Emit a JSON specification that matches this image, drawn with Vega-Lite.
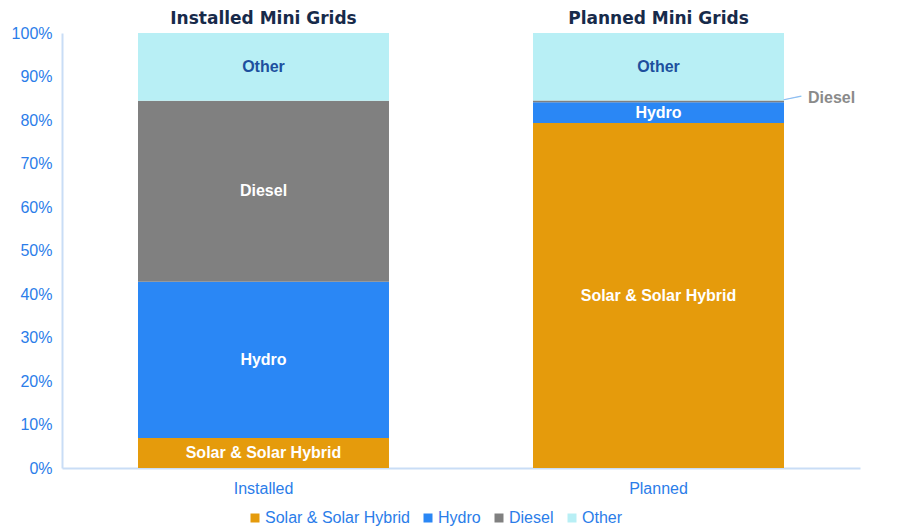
{
  "$schema": "https://vega.github.io/schema/vega-lite/v6.json",
  "autosize": {"type": "none"},
  "width": 798,
  "height": 435,
  "padding": {"left": 62, "top": 33, "right": 59, "bottom": 60},
  "config": {"view": {"stroke": null}, "font": "Liberation Sans"},
  "data": {
    "values": [
      {"cat": "Installed", "type": "Solar & Solar Hybrid", "value": 0.069},
      {"cat": "Installed", "type": "Hydro", "value": 0.359},
      {"cat": "Installed", "type": "Diesel", "value": 0.416},
      {"cat": "Installed", "type": "Other", "value": 0.156},
      {"cat": "Planned", "type": "Solar & Solar Hybrid", "value": 0.793},
      {"cat": "Planned", "type": "Hydro", "value": 0.048},
      {"cat": "Planned", "type": "Diesel", "value": 0.004},
      {"cat": "Planned", "type": "Other", "value": 0.155}
    ]
  },
  "transform": [
    {"calculate": "indexof(['Solar & Solar Hybrid','Hydro','Diesel','Other'], datum.type)", "as": "k"},
    {"stack": "value", "groupby": ["cat"], "sort": [{"field": "k", "order": "ascending"}], "as": ["y0", "y1"]},
    {"calculate": "(datum.y0 + datum.y1) / 2", "as": "ymid"},
    {"calculate": "datum.cat == 'Installed' ? 'Installed Mini Grids' : 'Planned Mini Grids'", "as": "title"}
  ],
  "encoding": {
    "x": {
      "field": "cat",
      "type": "nominal",
      "scale": {"paddingInner": 0.3646, "paddingOuter": 0.1924},
      "axis": {
        "title": null,
        "labelAngle": 0,
        "ticks": false,
        "labelPadding": 12,
        "labelColor": "#2b7de9",
        "labelFontSize": 16,
        "labelFont": "Liberation Sans",
        "domainColor": "#c9ddf6",
        "domainWidth": 2
      }
    }
  },
  "layer": [
    {
      "mark": {"type": "bar"},
      "encoding": {
        "y": {
          "field": "y0",
          "type": "quantitative",
          "scale": {"domain": [0, 1]},
          "axis": {
            "title": null,
            "format": ".0%",
            "values": [0, 0.1, 0.2, 0.3, 0.4, 0.5, 0.6, 0.7, 0.8, 0.9, 1],
            "grid": false,
            "ticks": false,
            "labelPadding": 10,
            "labelColor": "#2b7de9",
            "labelFontSize": 16,
            "labelFont": "Liberation Sans",
            "domainColor": "#c9ddf6",
            "domainWidth": 2
          }
        },
        "y2": {"field": "y1"},
        "color": {
          "field": "type",
          "type": "nominal",
          "scale": {
            "domain": ["Solar & Solar Hybrid", "Hydro", "Diesel", "Other"],
            "range": ["#e59b0c", "#2a87f5", "#808080", "#b8eff5"]
          },
          "legend": {
            "title": null,
            "orient": "none",
            "legendX": 185,
            "legendY": 477,
            "direction": "horizontal",
            "columns": 4,
            "symbolType": "square",
            "symbolSize": 81,
            "symbolStrokeWidth": 0,
            "labelColor": "#2b7de9",
            "labelFontSize": 16,
            "labelFont": "Liberation Sans",
            "labelOffset": 2,
            "columnPadding": 10
          }
        }
      }
    },
    {
      "transform": [{"filter": "!(datum.cat == 'Planned' && datum.type == 'Diesel')"}],
      "mark": {"type": "text", "fontWeight": "bold", "fontSize": 16, "font": "Liberation Sans"},
      "encoding": {
        "y": {"field": "ymid", "type": "quantitative"},
        "text": {"field": "type"},
        "color": {
          "condition": {"test": "datum.type == 'Other'", "value": "#1d4f9e"},
          "value": "#ffffff"
        }
      }
    },
    {
      "transform": [{"filter": "datum.cat == 'Planned' && datum.type == 'Diesel'"}],
      "mark": {"type": "text", "text": "—", "fontSize": 18, "color": "#8ec0f2", "align": "left", "dx": 0, "dy": -2, "angle": -12},
      "encoding": {
        "x": {"field": "cat", "type": "nominal", "bandPosition": 1},
        "y": {"field": "ymid", "type": "quantitative"}
      }
    },
    {
      "transform": [{"filter": "datum.cat == 'Planned' && datum.type == 'Diesel'"}],
      "mark": {"type": "text", "fontWeight": "bold", "fontSize": 16, "font": "Liberation Sans", "color": "#8a8a8a", "align": "left", "dx": 24, "dy": -3},
      "encoding": {
        "x": {"field": "cat", "type": "nominal", "bandPosition": 1},
        "y": {"field": "ymid", "type": "quantitative"},
        "text": {"field": "type"}
      }
    },
    {
      "transform": [{"filter": "datum.type == 'Other'"}],
      "mark": {"type": "text", "fontWeight": "bold", "fontSize": 17, "font": "DejaVu Sans", "color": "#172a4a", "dy": -14},
      "encoding": {
        "y": {"field": "y1", "type": "quantitative"},
        "text": {"field": "title"}
      }
    }
  ]
}
